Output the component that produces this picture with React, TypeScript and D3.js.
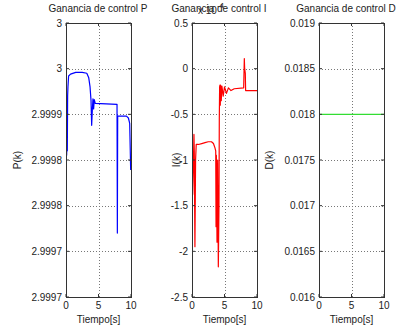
import { scaleLinear, line } from 'd3'

// proportional gain P(k)
const timeP = [0.1, 0.15, 0.2, 0.25, 0.3, 0.4, 0.7, 1.5, 2.5, 3.2, 3.5, 3.7, 3.85, 3.95, 4.05, 4.15, 4.25, 4.35, 4.5, 7.85, 7.9, 7.95, 8.05, 9.3, 9.6, 9.8, 9.95]
const gainP = [2.999855, 2.999875, 2.99986, 2.99992, 2.99993, 2.999942, 2.999944, 2.999946, 2.999946, 2.999945, 2.99994, 2.99993, 2.999915, 2.999888, 2.999905, 2.999917, 2.999906, 2.999916, 2.999912, 2.999911, 2.99977, 2.999898, 2.999898, 2.999898, 2.999896, 2.99989, 2.999839]
const ticksP = [2.9997, 2.99975, 2.9998, 2.99985, 2.9999, 2.99995, 3.0]
const tickLabelsP = ['2.9997', '2.9997', '2.9998', '2.9998', '2.9999', '3', '3']

// integral gain I(k), in units of 1e-4
const timeI = [0.1, 0.2, 0.3, 0.35, 0.45, 0.55, 0.65, 1.0, 1.5, 2.0, 2.5, 3.0, 3.3, 3.5, 3.65, 3.7, 3.75, 3.85, 3.95, 4.05, 4.15, 4.2, 4.25, 4.3, 4.35, 4.4, 4.5, 4.6, 4.8, 5.0, 5.3, 5.6, 6.0, 6.5, 7.95, 8.05, 8.1, 8.2, 8.25, 10]
const gainI = [-1.38, -1.1, -0.72, -0.9, -1.95, -1.0, -0.83, -0.83, -0.82, -0.81, -0.8, -0.8, -0.82, -0.86, -0.9, -1.73, -0.95, -1.9, -1.0, -2.17, -1.5, -0.55, -0.2, -0.18, -0.4, -0.18, -0.35, -0.19, -0.3, -0.2, -0.27, -0.21, -0.24, -0.22, -0.21, 0.11, 0.0, -0.05, -0.24, -0.24]
const ticksI = [-2.5, -2, -1.5, -1, -0.5, 0, 0.5]
const tickLabelsI = ['-2.5', '-2', '-1.5', '-1', '-0.5', '0', '0.5']

// derivative gain D(k)
const timeD = [0, 10]
const gainD = [0.018, 0.018]
const ticksD = [0.016, 0.0165, 0.017, 0.0175, 0.018, 0.0185, 0.019]
const tickLabelsD = ['0.016', '0.0165', '0.017', '0.0175', '0.018', '0.0185', '0.019']

const timeTicks = [0, 5, 10]
const timeLabels = ['0', '5', '10']

const top = 23
const bottom = 297
const font = 'Liberation Sans, Arial, sans-serif'

const panels = [
  { left: 66, right: 131, title: 'Ganancia de control P', titleX: 98, ylabel: 'P(k)', ylabelX: 21, t: timeP, v: gainP, ticks: ticksP, labels: tickLabelsP, color: '#0000ff' },
  { left: 192, right: 257, title: 'Ganancia de control I', titleX: 219, ylabel: 'I(k)', ylabelX: 180, t: timeI, v: gainI, ticks: ticksI, labels: tickLabelsI, color: '#ff0000', exp: true },
  { left: 319, right: 384, title: 'Ganancia de control D', titleX: 346, ylabel: 'D(k)', ylabelX: 273, t: timeD, v: gainD, ticks: ticksD, labels: tickLabelsD, color: '#33dd33' },
]

const Panel = ({ p }: { p: any }) => {
  const x = scaleLinear().domain([0, 10]).range([p.left, p.right])
  const y = scaleLinear().domain([p.ticks[0], p.ticks[p.ticks.length - 1]]).range([bottom, top])
  const path = line<number>().x((d, i) => x(p.t[i])).y(d => y(d))(p.v)
  return (
    <g>
      {/* grid */}
      {p.ticks.slice(1, -1).map((tk: number, i: number) => (
        <line key={'gy' + i} x1={p.left} x2={p.right} y1={Math.round(y(tk)) + 0.5} y2={Math.round(y(tk)) + 0.5} stroke="#777" strokeDasharray="1,2" />
      ))}
      {timeTicks.slice(1, -1).map((tk, i) => (
        <line key={'gx' + i} x1={Math.round(x(tk)) + 0.5} x2={Math.round(x(tk)) + 0.5} y1={top} y2={bottom} stroke="#777" strokeDasharray="1,2" />
      ))}
      <path d={path || ''} fill="none" stroke={p.color} strokeWidth={1.2} strokeLinejoin="round" />
      {/* ticks inside the box */}
      {p.ticks.map((tk: number, i: number) => (
        <g key={'ty' + i}>
          <line x1={p.left} x2={p.left + 3} y1={y(tk)} y2={y(tk)} stroke="#333" />
          <line x1={p.right - 3} x2={p.right} y1={y(tk)} y2={y(tk)} stroke="#333" />
          <text x={p.left - 4} y={y(tk) + 3.5} textAnchor="end" fontSize={10} fill="#222" fontFamily={font}>{p.labels[i]}</text>
        </g>
      ))}
      {timeTicks.map((tk, i) => (
        <g key={'tx' + i}>
          <line x1={x(tk)} x2={x(tk)} y1={bottom} y2={bottom - 3} stroke="#333" />
          <line x1={x(tk)} x2={x(tk)} y1={top} y2={top + 3} stroke="#333" />
          <text x={x(tk)} y={309} textAnchor="middle" fontSize={10} fill="#222" fontFamily={font}>{timeLabels[i]}</text>
        </g>
      ))}
      <rect x={p.left + 0.5} y={top + 0.5} width={p.right - p.left} height={bottom - top} fill="none" stroke="#333" />
      <text x={(p.left + p.right) / 2} y={323} textAnchor="middle" fontSize={10} fill="#222" fontFamily={font}>Tiempo[s]</text>
      <text transform={`translate(${p.ylabelX},160) rotate(-90)`} textAnchor="middle" fontSize={10} fill="#222" fontFamily={font}>{p.ylabel}</text>
      <text x={p.titleX} y={12} textAnchor="middle" fontSize={10} fill="#222" fontFamily={font}>{p.title}</text>
      {p.exp && (
        <text x={198} y={14} fontSize={10} fill="#222" fontFamily={font}>
          x 10<tspan dy={-6} fontSize={8}>-4</tspan>
        </text>
      )}
    </g>
  )
}

const App = () => (
  <svg width={406} height={333} style={{ position: 'absolute', left: 0, top: 0, background: '#fff' }}>
    <rect width={406} height={333} fill="#fff" />
    {panels.map((p, i) => <Panel key={i} p={p} />)}
  </svg>
)

export default App
